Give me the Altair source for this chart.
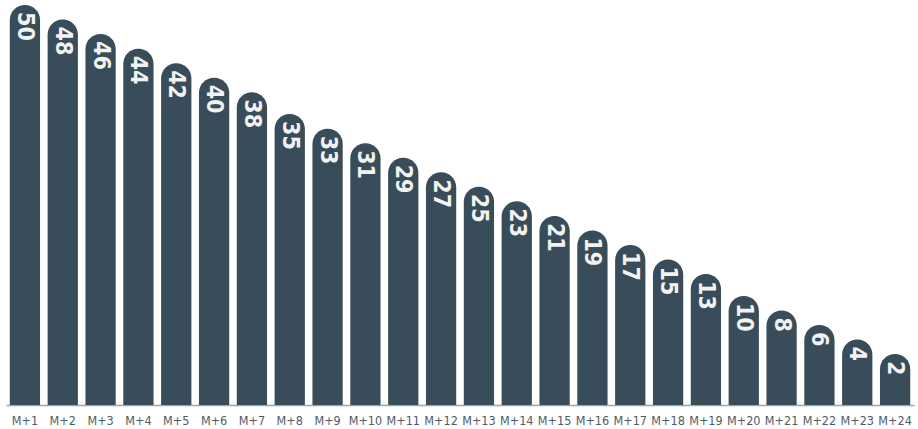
import altair as alt
import pandas as pd

# Month offsets and the value shown on each bar
months = [f"M+{i}" for i in range(1, 25)]
values = [50, 48, 46, 44, 42, 40, 38, 35, 33, 31, 29, 27,
          25, 23, 21, 19, 17, 15, 13, 10, 8, 6, 4, 2]

df = pd.DataFrame({"month": months, "value": values})

BAR_COLOR = "#384d59"
LABEL_FONT = "Liberation Sans Narrow, DejaVu Sans Condensed, Roboto, sans-serif"

x_enc = alt.X(
    "month:N",
    sort=months,
    scale=alt.Scale(paddingInner=0.2, paddingOuter=0.1),
    axis=alt.Axis(
        title=None,
        labelAngle=0,
        ticks=False,
        domain=True,
        domainColor="#9aa6ad",
        domainWidth=1.5,
        labelFont=LABEL_FONT,
        labelFontSize=12.5,
        labelColor="#4f5c64",
        labelPadding=9,
    ),
)
y_scale = alt.Scale(domain=[-5, 50], nice=False, zero=False)

bars = alt.Chart(df).mark_bar(
    color=BAR_COLOR,
    cornerRadiusTopLeft=15,
    cornerRadiusTopRight=15,
).encode(
    x=x_enc,
    y=alt.Y("value:Q", scale=y_scale, axis=None),
    y2=alt.datum(-5),
)

labels = alt.Chart(df).mark_text(
    angle=90,
    align="left",
    baseline="middle",
    dx=7,
    font=LABEL_FONT,
    fontSize=23,
    fontWeight="bold",
    color="#f2f2f2",
).encode(
    x=alt.X("month:N", sort=months),
    y=alt.Y("value:Q", scale=y_scale),
    text="value:Q",
)

chart = (
    alt.layer(bars, labels)
    .properties(
        width=908,
        height=400,
        autosize=alt.AutoSizeParams(type="none"),
        padding={"left": 6, "top": 5, "right": 4, "bottom": 24},
        background="white",
    )
    .configure_view(stroke=None)
)

chart.save("out.html", embed_options={"renderer": "svg", "actions": False})
